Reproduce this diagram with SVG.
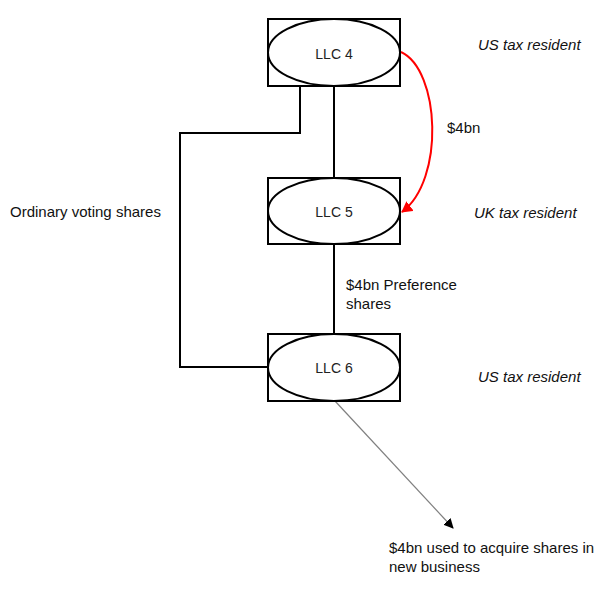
<svg xmlns="http://www.w3.org/2000/svg" width="602" height="589" viewBox="0 0 602 589">
<style>
.box{fill:#fff;stroke:#000;stroke-width:2}
.ell{fill:#fff;stroke:#000;stroke-width:2}
.lbl{font-family:"Liberation Sans",Arial,sans-serif;font-size:14px;fill:#222;text-anchor:middle}
.t{font-family:"Liberation Sans",Arial,sans-serif;font-size:15px;fill:#111}
.it{font-style:italic}
.conn{fill:none;stroke:#000;stroke-width:2}
</style>
<defs>
<marker id="ah" markerWidth="10" markerHeight="10" refX="9" refY="5" orient="auto" markerUnits="userSpaceOnUse"><path d="M0,0 L10,5 L0,10 Z" fill="#000"/></marker>
<marker id="ahr" markerWidth="12" markerHeight="12" refX="10" refY="6" orient="auto" markerUnits="userSpaceOnUse"><path d="M0,0 L11,6 L0,12 Z" fill="#f00"/></marker>
</defs>
<rect width="602" height="589" fill="#fff"/>
<g id="connectors">
<path class="conn" d="M300,86 V133 H180 V367 H268"/>
<path class="conn" d="M334,86 V178"/>
<path class="conn" d="M334,244 V334"/>
<path d="M335,401 L453,528" stroke="#808080" stroke-width="1.2" fill="none" marker-end="url(#ah)"/>
<path d="M401,52 C440,70 445,180 402,212" stroke="#f00" stroke-width="2" fill="none" marker-end="url(#ahr)"/>
</g>
<g id="llc4">
<rect class="box" x="268" y="19" width="132" height="67"/>
<ellipse class="ell" cx="334" cy="52.5" rx="66" ry="33.5"/>
<text class="lbl" x="334" y="59">LLC 4</text>
</g>
<g id="llc5">
<rect class="box" x="268" y="178" width="132" height="66"/>
<ellipse class="ell" cx="334" cy="211" rx="66" ry="33"/>
<text class="lbl" x="334" y="217">LLC 5</text>
</g>
<g id="llc6">
<rect class="box" x="268" y="334" width="132" height="67"/>
<ellipse class="ell" cx="334" cy="367.5" rx="66" ry="33.5"/>
<text class="lbl" x="334" y="373">LLC 6</text>
</g>
<g id="labels">
<text class="t it" x="478" y="50">US tax resident</text>
<text class="t it" x="474" y="218">UK tax resident</text>
<text class="t it" x="478" y="382">US tax resident</text>
<text class="t" x="447" y="133">$4bn</text>
<text class="t" x="10" y="217">Ordinary voting shares</text>
<text class="t" x="346" y="290">$4bn Preference</text>
<text class="t" x="346" y="309">shares</text>
<text class="t" x="389" y="553">$4bn used to acquire shares in</text>
<text class="t" x="389" y="572">new business</text>
</g>
</svg>
